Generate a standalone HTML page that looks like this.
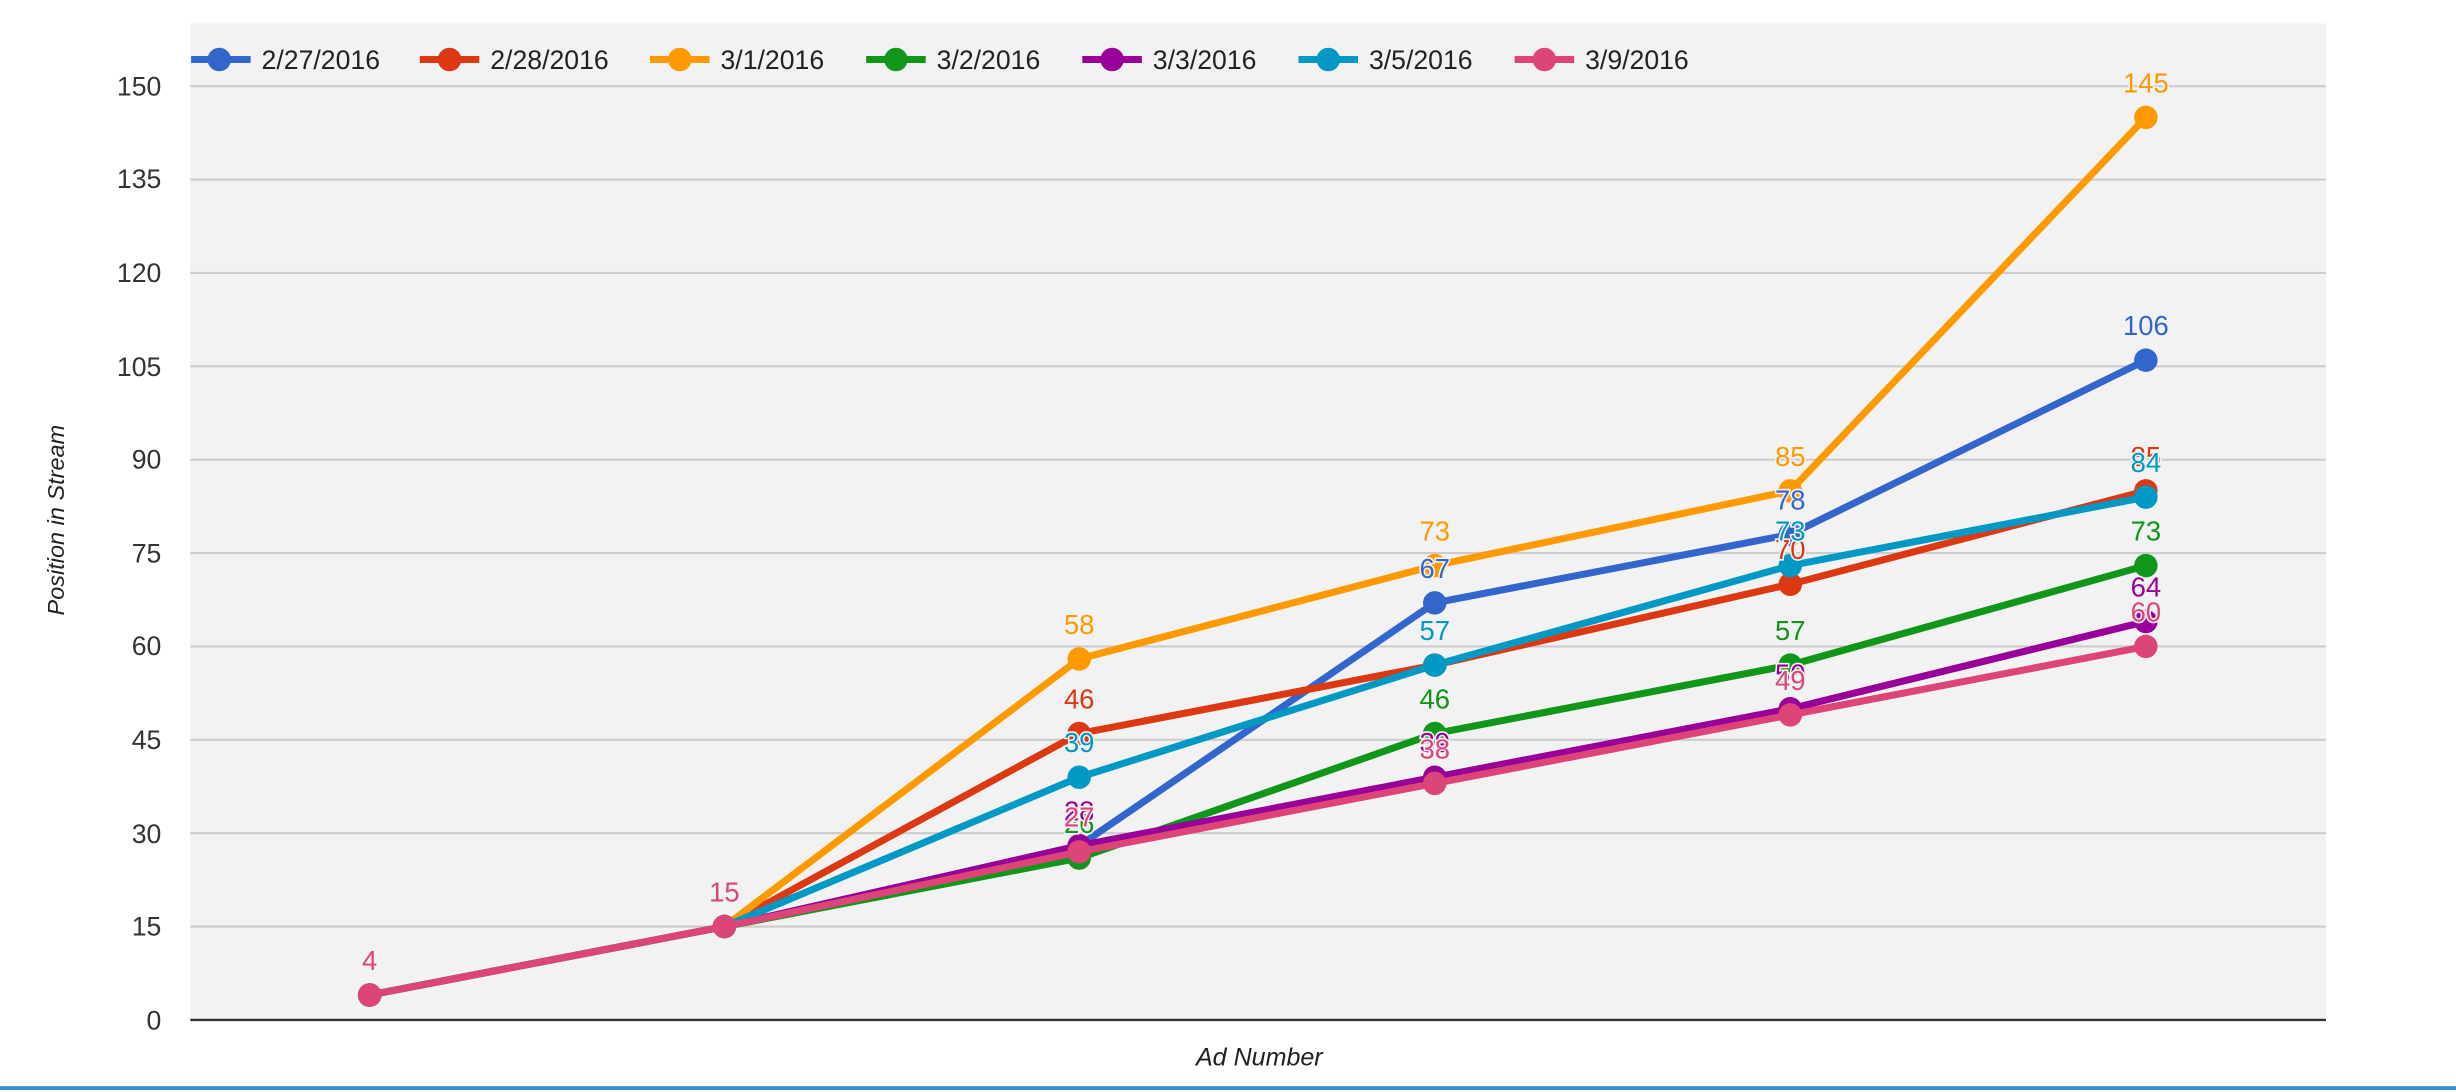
<!DOCTYPE html>
<html><head><meta charset="utf-8"><style>
html,body{margin:0;padding:0;background:#fff;}
svg{display:block;}
text{font-family:"Liberation Sans",sans-serif;}
</style></head><body>
<svg width="2456" height="1092" viewBox="0 0 1568 697" preserveAspectRatio="none" xmlns="http://www.w3.org/2000/svg">
<rect x="0" y="0" width="1568" height="697" fill="#fff"/>
<rect x="121.5" y="15" width="1363.5" height="636" fill="#f2f2f2"/>
<g stroke="#cccccc" stroke-width="1.3">
<line x1="121.5" x2="1485" y1="55" y2="55"/>
<line x1="121.5" x2="1485" y1="114.6" y2="114.6"/>
<line x1="121.5" x2="1485" y1="174.2" y2="174.2"/>
<line x1="121.5" x2="1485" y1="233.8" y2="233.8"/>
<line x1="121.5" x2="1485" y1="293.4" y2="293.4"/>
<line x1="121.5" x2="1485" y1="353" y2="353"/>
<line x1="121.5" x2="1485" y1="412.6" y2="412.6"/>
<line x1="121.5" x2="1485" y1="472.2" y2="472.2"/>
<line x1="121.5" x2="1485" y1="531.8" y2="531.8"/>
<line x1="121.5" x2="1485" y1="591.4" y2="591.4"/>
</g>
<line x1="121.5" x2="1485" y1="651" y2="651" stroke="#333" stroke-width="1.5"/>
<line x1="0" x2="1568" y1="694.5" y2="694.5" stroke="#3a8fd0" stroke-width="2.5"/>
<g font-size="17" fill="#333" text-anchor="end">
<text x="103" y="61">150</text><text x="103" y="120">135</text><text x="103" y="180">120</text>
<text x="103" y="240">105</text><text x="103" y="299">90</text><text x="103" y="359">75</text>
<text x="103" y="418">60</text><text x="103" y="478">45</text><text x="103" y="538">30</text>
<text x="103" y="597">15</text><text x="103" y="657">0</text>
</g>
<text x="0" y="0" font-size="15" font-style="italic" fill="#222" text-anchor="middle" transform="translate(41,332) rotate(-90)">Position in Stream</text>
<text x="804" y="680" font-size="16" font-style="italic" fill="#222" text-anchor="middle">Ad Number</text>
<g font-size="17" fill="#222">
<g><line x1="122" x2="160" y1="38" y2="38" stroke="#3366cc" stroke-width="4.5"/><circle cx="140" cy="38" r="7.5" fill="#3366cc"/><text x="167" y="44">2/27/2016</text></g>
<g><line x1="268" x2="306" y1="38" y2="38" stroke="#dc3912" stroke-width="4.5"/><circle cx="287" cy="38" r="7.5" fill="#dc3912"/><text x="313" y="44">2/28/2016</text></g>
<g><line x1="415" x2="453" y1="38" y2="38" stroke="#ff9900" stroke-width="4.5"/><circle cx="434" cy="38" r="7.5" fill="#ff9900"/><text x="460" y="44">3/1/2016</text></g>
<g><line x1="553" x2="591" y1="38" y2="38" stroke="#109618" stroke-width="4.5"/><circle cx="572" cy="38" r="7.5" fill="#109618"/><text x="598" y="44">3/2/2016</text></g>
<g><line x1="691" x2="729" y1="38" y2="38" stroke="#990099" stroke-width="4.5"/><circle cx="710" cy="38" r="7.5" fill="#990099"/><text x="736" y="44">3/3/2016</text></g>
<g><line x1="829" x2="867" y1="38" y2="38" stroke="#0099c6" stroke-width="4.5"/><circle cx="848" cy="38" r="7.5" fill="#0099c6"/><text x="874" y="44">3/5/2016</text></g>
<g><line x1="967" x2="1005" y1="38" y2="38" stroke="#dd4477" stroke-width="4.5"/><circle cx="986" cy="38" r="7.5" fill="#dd4477"/><text x="1012" y="44">3/9/2016</text></g>
</g>
<g id="series"></g>
</svg>
<script>
var xs=[236,462.5,689,916,1143,1370];
function Y(v){return 651-v*3.973;}
var S=[
["#3366cc",[4,15,28,67,78,106]],
["#dc3912",[4,15,46,57,70,85]],
["#ff9900",[4,15,58,73,85,145]],
["#109618",[4,15,26,46,57,73]],
["#990099",[4,15,28,39,50,64]],
["#0099c6",[4,15,39,57,73,84]],
["#dd4477",[4,15,27,38,49,60]]];
var g=document.getElementById('series'),h='';
S.forEach(function(s){
 var pts=s[1].map(function(v,i){return xs[i]+','+Y(v).toFixed(1);}).join(' ');
 h+='<polyline points="'+pts+'" fill="none" stroke="'+s[0]+'" stroke-width="4.5" stroke-linejoin="round"/>';
 s[1].forEach(function(v,i){h+='<circle cx="'+xs[i]+'" cy="'+Y(v).toFixed(1)+'" r="7.5" fill="'+s[0]+'"/>';});
});
S.forEach(function(s){
 s[1].forEach(function(v,i){h+='<text x="'+xs[i]+'" y="'+(Y(v)-16).toFixed(1)+'" font-size="17.5" text-anchor="middle" fill="'+s[0]+'" stroke="#f2f2f2" stroke-width="2" paint-order="stroke">'+v+'</text>';});
});
g.innerHTML=h;
</script>
</body></html>
